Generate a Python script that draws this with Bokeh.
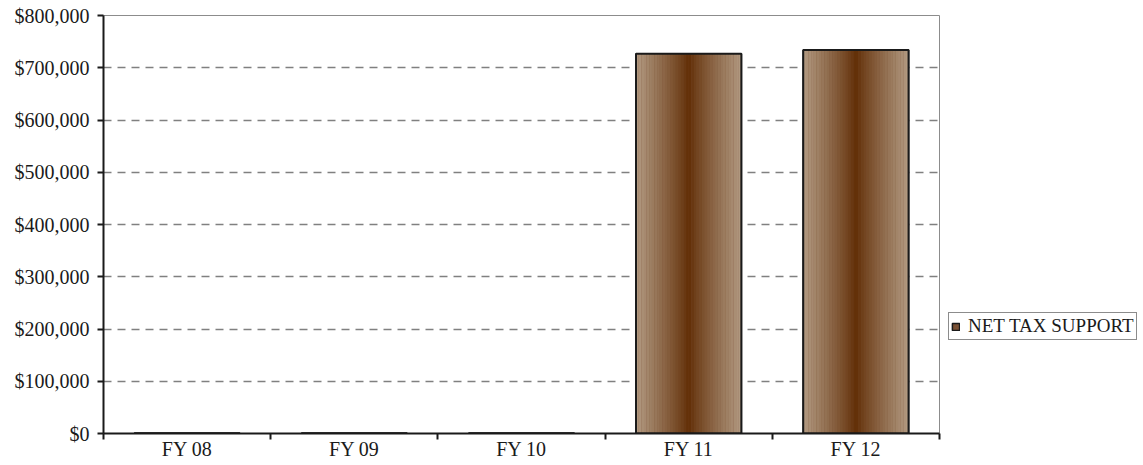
from bokeh.plotting import figure
from bokeh.models import (Range1d, FixedTicker, NumeralTickFormatter, Legend,
                          LegendItem, ColumnDataSource)
from bokeh.embed import file_html
from bokeh.resources import INLINE

# ---- data -------------------------------------------------------------
years = ["FY 08", "FY 09", "FY 10", "FY 11", "FY 12"]
net_tax_support = [400, 400, 400, 727000, 734000]
y_ticks = [0, 100000, 200000, 300000, 400000, 500000, 600000, 700000, 800000]

# ---- styling ----------------------------------------------------------
FONT = "Liberation Serif"
BAR_WIDTH = 0.63
LIGHT = (178, 154, 130)
DARK = (96, 44, 4)
N_SLICES = 40

p = figure(
    width=1143, height=465,
    frame_width=836, frame_height=418,
    x_range=Range1d(0, len(years)), y_range=Range1d(0, 800000),
    output_backend="svg", toolbar_location=None,
    min_border_left=103, min_border_top=15, min_border_bottom=32,
    min_border_right=0,
)
p.background_fill_color = "white"
p.border_fill_color = "white"
p.outline_line_color = "#8c8c8c"
p.outline_line_width = 1

centers = [i + 0.5 for i in range(len(years))]

# base bars (also used for the legend swatch)
base_src = ColumnDataSource(dict(x=centers, top=net_tax_support))
base = p.vbar(x="x", top="top", width=BAR_WIDTH, bottom=0, source=base_src,
              fill_color="#7a5134", line_color="#1a1a1a", line_width=1.5)

# horizontal gradient: light at both edges, dark in the middle
lefts, rights, tops, colors = [], [], [], []
for c, v in zip(centers, net_tax_support):
    x0 = c - BAR_WIDTH / 2
    step = BAR_WIDTH / N_SLICES
    for i in range(N_SLICES):
        t = abs((i + 0.5) / N_SLICES - 0.5) * 2
        t = t ** 0.85
        rgb = tuple(int(round(DARK[k] + (LIGHT[k] - DARK[k]) * t)) for k in range(3))
        lefts.append(x0 + i * step)
        rights.append(x0 + (i + 1) * step + step * 0.05)
        tops.append(v)
        colors.append("#%02x%02x%02x" % rgb)
grad_src = ColumnDataSource(dict(left=lefts, right=rights, top=tops, color=colors))
p.quad(left="left", right="right", top="top", bottom=0, source=grad_src,
       fill_color="color", line_color=None)

# bar outlines
p.vbar(x="x", top="top", width=BAR_WIDTH, bottom=0, source=base_src,
       fill_color=None, line_color="#1a1a1a", line_width=2)

# ---- axes ----------------------------------------------------------------
xa = p.xaxis[0]
xa.ticker = FixedTicker(ticks=centers, minor_ticks=list(range(len(years) + 1)))
xa.major_label_overrides = {c: y for c, y in zip(centers, years)}
xa.major_tick_line_color = None
xa.major_tick_in = 0
xa.major_tick_out = 0
xa.minor_tick_in = 0
xa.minor_tick_out = 6
xa.minor_tick_line_color = "#1a1a1a"
xa.minor_tick_line_width = 2
xa.axis_line_color = "#1a1a1a"
xa.axis_line_width = 2
xa.major_label_text_font = FONT
xa.major_label_text_font_size = "20px"
xa.major_label_text_color = "#1a1a1a"
xa.major_label_standoff = -2

ya = p.yaxis[0]
ya.ticker = FixedTicker(ticks=y_ticks)
ya.formatter = NumeralTickFormatter(format="$0,0")
ya.major_tick_in = 0
ya.major_tick_out = 6
ya.minor_tick_line_color = None
ya.major_tick_line_color = "#1a1a1a"
ya.major_tick_line_width = 2
ya.axis_line_color = "#1a1a1a"
ya.axis_line_width = 2
ya.major_label_text_font = FONT
ya.major_label_text_font_size = "20px"
ya.major_label_text_color = "#1a1a1a"
ya.major_label_standoff = 8

p.xgrid.grid_line_color = None
p.ygrid.ticker = FixedTicker(ticks=y_ticks[1:-1])
p.ygrid.grid_line_color = "#808080"
p.ygrid.grid_line_dash = "8 6"
p.ygrid.grid_line_width = 1.5

# ---- legend -------------------------------------------------------------
legend = Legend(
    items=[LegendItem(label="NET TAX SUPPORT", renderers=[base])],
    location=(9, 93),
    border_line_color="#1a1a1a", border_line_width=1,
    label_text_font=FONT, label_text_font_size="19px",
    label_text_color="#1a1a1a",
    label_height=18,
    glyph_width=9, glyph_height=9,
    padding=2, spacing=0, margin=0,
    label_standoff=8,
    background_fill_color="white",
)
p.add_layout(legend, "right")

open("out.html", "w").write(file_html(p, INLINE))
